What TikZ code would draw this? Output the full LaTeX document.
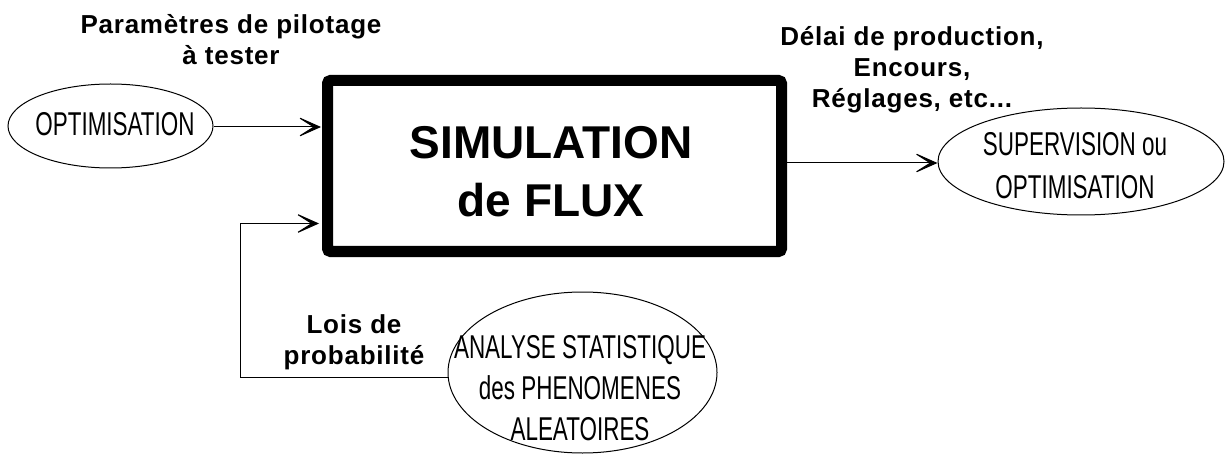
\documentclass[tikz,border=0pt]{standalone}
\usepackage{fontspec}
\setmainfont{Liberation Sans}
\newfontfamily\lblfont[LetterSpace=3]{Liberation Sans Bold}
\newfontfamily\titlefont{Liberation Sans Bold}
\newfontfamily\narrowfont[FakeStretch=0.68]{Liberation Sans}
\usetikzlibrary{arrows.meta,shapes.geometric}
\tikzset{
  lbl/.style={font=\lblfont\fontsize{26}{31}\selectfont, align=center, inner sep=0pt},
  ell/.style={draw, ellipse, line width=1pt, inner sep=0pt},
  ellText/.style={font=\narrowfont\fontsize{33}{41}\selectfont, align=center},
  flow/.style={line width=1pt, -{Stealth[length=27pt,width=24pt,inset=19pt]}},
}
\begin{document}
\begin{tikzpicture}[x=1pt,y=-1pt]
\useasboundingbox (0,0) rectangle (1225,454);
% main box
\draw[line width=11pt, rounded corners=3pt] (327.5,80.5) rectangle (781.5,251.5);
\node[inner sep=0pt, minimum width=454pt, minimum height=171pt] (sim) at (554.5,166) {};
\node[font=\titlefont\fontsize{46}{58}\selectfont, align=center] (simtxt) at (551,172) {SIMULATION\\de FLUX};
% ellipses
\node[ell, minimum width=205pt, minimum height=84pt] (opt) at (110.5,126) {};
\node[ellText] at (115,124) {OPTIMISATION};
\node[ell, minimum width=286pt, minimum height=107pt] (sup) at (1081,161.5) {};
\node[ellText, font=\narrowfont\fontsize{33}{43}\selectfont] at (1075,166) {SUPERVISION ou\\OPTIMISATION};
\node[ell, minimum width=269pt, minimum height=161pt] (ana) at (582.5,372.5) {};
\node[ellText] at (580,388) {ANALYSE STATISTIQUE\\des PHENOMENES\\ALEATOIRES};
% labels
\node[lbl] (l1) at (231,40) {Paramètres de pilotage\\à tester};
\node[lbl] (l2) at (912,70) {Délai de production,\\Encours,\\Réglages, etc...};
\node[lbl] (l3) at (354,342) {Lois de\\probabilité};
% connectors
\coordinate (inA) at (321,127);
\coordinate (inB) at (319,223.5);
\coordinate (outA) at (787,163);
\coordinate (corner1) at (240.5,377);
\coordinate (corner2) at (240.5,223.5);
\draw[flow] (opt.east |- inA) -- (inA);
\draw[flow] (outA) -- (sup.west |- outA);
\draw[flow] (ana.west |- corner1) -- (corner1) -- (corner2) -- (inB);
\end{tikzpicture}
\end{document}
